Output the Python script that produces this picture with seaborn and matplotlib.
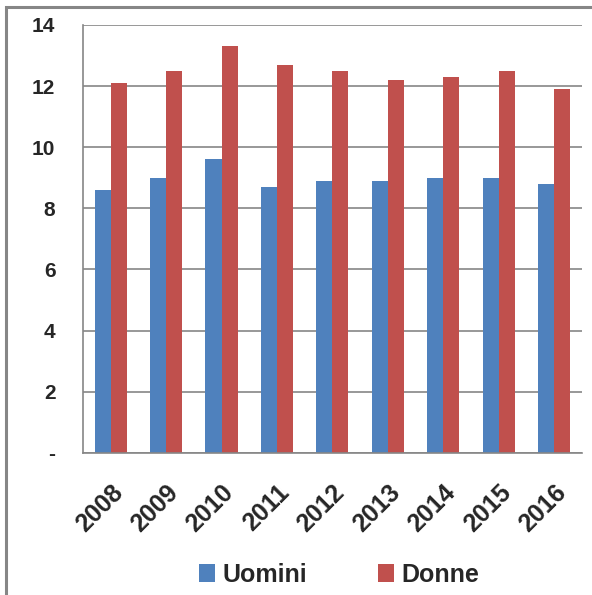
import numpy as np
import pandas as pd
import matplotlib
matplotlib.use("Agg")
import matplotlib.pyplot as plt
import seaborn as sns
from matplotlib.patches import Rectangle
from matplotlib.transforms import ScaledTranslation

# dati
anni = ["2008", "2009", "2010", "2011", "2012", "2013", "2014", "2015", "2016"]
uomini = [8.6, 9.0, 9.6, 8.7, 8.9, 8.9, 9.0, 9.0, 8.8]
donne = [12.1, 12.5, 13.3, 12.7, 12.5, 12.2, 12.3, 12.5, 11.9]
serie = ["Uomini", "Donne"]
colori = ["#4F81BD", "#C0504D"]
yticks = [0, 2, 4, 6, 8, 10, 12, 14]
ylabels = ["-", "2", "4", "6", "8", "10", "12", "14"]

df = pd.DataFrame({
    "anno": anni * 2,
    "valore": uomini + donne,
    "serie": [serie[0]] * len(anni) + [serie[1]] * len(anni),
})

sns.set_style("white")
plt.rcParams["font.family"] = ["Liberation Sans", "DejaVu Sans"]

fig = plt.figure(figsize=(5.92, 5.95), dpi=100)
ax = fig.add_axes([0.140, 0.239, 0.843, 0.719])

sns.barplot(data=df, x="anno", y="valore", hue="serie", palette=colori,
            width=0.58, ax=ax, saturation=1, edgecolor="none", legend=True)

ax.set_ylim(0, 14)
ax.set_xlim(-0.5, len(anni) - 0.5)
ax.set_yticks(yticks)
ax.set_yticklabels(ylabels, fontsize=15, fontweight="bold")
ax.yaxis.grid(True, color="#868686", linewidth=1.2)
ax.set_axisbelow(True)
ax.set_xlabel("")
ax.set_ylabel("")

spost = ScaledTranslation(-10 / 100, 0, fig.dpi_scale_trans)
for lab in ax.get_xticklabels():
    lab.set_rotation(45)
    lab.set_ha("right")
    lab.set_rotation_mode("anchor")
    lab.set_fontweight("bold")
    lab.set_fontsize(18)
    lab.set_transform(lab.get_transform() + spost)

for s in ["top", "right"]:
    ax.spines[s].set_visible(False)
for s in ["left", "bottom"]:
    ax.spines[s].set_color("#868686")
    ax.spines[s].set_linewidth(1.2)
ax.tick_params(axis="y", length=5.8, color="#868686", pad=14)
ax.tick_params(axis="x", length=0, pad=20)

handles, labels = ax.get_legend_handles_labels()
ax.legend(handles, labels, loc="center", bbox_to_anchor=(0.573, 0.034),
          bbox_transform=fig.transFigure, ncol=2, frameon=False,
          prop={"size": 18, "weight": "bold"}, handlelength=0.64,
          handleheight=0.7, handletextpad=0.3, columnspacing=2.8)

# cornice del grafico
fig.add_artist(Rectangle((6 / 592, -0.05), 1.2, 1 - 7 / 595 + 0.05,
                         transform=fig.transFigure, fill=False,
                         edgecolor="#868686", linewidth=2.2, clip_on=False))

fig.savefig("out.png", dpi=100)
